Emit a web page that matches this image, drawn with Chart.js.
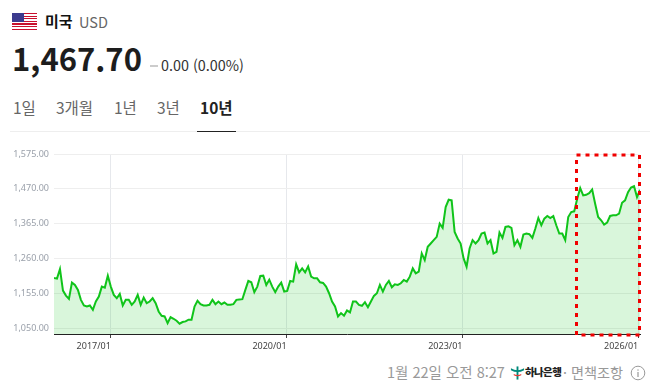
<!DOCTYPE html>
<html lang="ko">
<head>
<meta charset="utf-8">
<script src="https://cdn.jsdelivr.net/npm/chart.js@4"></script>
<style>
  html, body { margin: 0; padding: 0; background: #fff; }
  body { width: 661px; height: 392px; position: relative; overflow: hidden; font-family: "Noto Sans CJK KR", "Noto Sans", sans-serif; }
  .abs { position: absolute; white-space: nowrap; line-height: 1; }
  #flag { left: 12px; top: 13px; width: 25px; height: 17px; background: repeating-linear-gradient(#c8102e 0 1.3px, #fff 1.3px 2.6px); }
  #flag i { position: absolute; left: 0; top: 0; width: 12px; height: 9px; background: #3c3b8e; }
  #chartBox { position: absolute; left: 0; top: 140px; width: 661px; height: 215px; }
  #tabLine { left: 10px; top: 131px; width: 640px; height: 1px; background: #eee; }
  #tabOn { left: 197px; top: 131px; width: 39px; height: 1px; background: #222; }
</style>
</head>
<body>
<div class="abs" id="flag"><i></i></div>
<div class="abs" style="left:45px;top:13px;font-size:15px;font-weight:700;color:#111">미국</div>
<div class="abs" style="left:79px;top:15px;font-size:14.5px;color:#666">USD</div>
<div class="abs" style="left:12px;top:42px;font-size:31px;font-weight:700;color:#1d1d1d">1,467.70</div>
<div class="abs" style="left:150px;top:65px;width:8px;height:2px;background:#ccc"></div>
<div class="abs" style="left:161px;top:58px;font-size:14.4px;color:#333">0.00 (0.00%)</div>
<div class="abs" style="left:13px;top:100px;font-size:15.5px;color:#666">1일</div>
<div class="abs" style="left:56px;top:100px;font-size:15.5px;color:#666">3개월</div>
<div class="abs" style="left:114px;top:100px;font-size:15.5px;color:#666">1년</div>
<div class="abs" style="left:157px;top:100px;font-size:15.5px;color:#666">3년</div>
<div class="abs" style="left:200px;top:100px;font-size:15.5px;font-weight:700;color:#222">10년</div>
<div class="abs" id="tabLine"></div>
<div class="abs" id="tabOn"></div>

<div id="chartBox"><canvas id="fxChart"></canvas></div>

<div class="abs" style="left:387px;top:365px;font-size:14.5px;color:#999">1월 22일 오전 8:27</div>
<svg class="abs" style="left:510px;top:365px" width="15" height="16" viewBox="0 0 16 16">
  <path d="M1 3 Q8 7 15 3 L15 5 Q8 9 1 5 Z" fill="#00897b"/>
  <rect x="7" y="1" width="2" height="14" fill="#00897b"/>
  <path d="M4 9 Q8 11 12 9 L12 10.5 Q8 12.5 4 10.5 Z" fill="#e53935"/>
</svg>
<div class="abs" style="left:525px;top:367px;font-size:10.5px;font-weight:900;color:#222;letter-spacing:-0.6px">하나은행</div>
<div class="abs" style="left:563px;top:365px;font-size:14.2px;color:#999">· 면책조항</div>
<svg class="abs" style="left:630px;top:365px" width="16" height="16" viewBox="0 0 16 16">
  <circle cx="8" cy="8" r="6.8" fill="none" stroke="#999" stroke-width="1"/>
  <rect x="7.4" y="7" width="1.2" height="5" fill="#999"/>
  <rect x="7.4" y="4.4" width="1.2" height="1.3" fill="#999"/>
</svg>

<script>
const startYear = 2016.03;
const endYear = 2026.03;
const yTicks = [1050, 1155, 1260, 1365, 1470, 1575];
const xTicks = [2017, 2020, 2023, 2026];
const values = [
  1201, 1199, 1228, 1163, 1148, 1138, 1187, 1180, 1165, 1135, 1118, 1115, 1118, 1105, 1130, 1145,
  1175, 1172, 1208, 1175, 1150, 1140, 1153, 1118, 1135, 1135, 1120, 1130, 1150, 1120, 1142, 1125,
  1130, 1140, 1125, 1100, 1087, 1085, 1065, 1083, 1078, 1072, 1063, 1068, 1070, 1075, 1075, 1115,
  1132, 1122, 1118, 1118, 1120, 1135, 1122, 1130,
  1122, 1127, 1120, 1120, 1122, 1135, 1136, 1137, 1165, 1192, 1188, 1158, 1175, 1207, 1208, 1180,
  1196, 1175, 1158, 1175, 1187, 1160, 1162, 1192, 1190, 1242, 1218, 1230, 1218, 1236, 1205, 1200,
  1200, 1188, 1186, 1175, 1155, 1130, 1115, 1085, 1095, 1087, 1103, 1097, 1130, 1130, 1120, 1117,
  1128, 1113, 1130, 1147, 1155, 1180, 1160, 1180, 1192, 1173, 1182, 1180, 1185, 1195, 1190, 1205,
  1230, 1215, 1220, 1275, 1255, 1295, 1305, 1315, 1325, 1365,
  1352, 1415, 1437, 1435, 1340, 1320, 1305, 1260, 1235, 1290, 1315, 1305, 1315, 1335, 1338, 1305,
  1315, 1275, 1280, 1338, 1322, 1355, 1357, 1352, 1300, 1315, 1295, 1332, 1335, 1333, 1322, 1350,
  1382, 1360, 1380, 1388, 1382, 1388, 1360, 1335, 1335, 1315, 1385, 1400, 1402, 1440, 1472, 1450,
  1452, 1457, 1468, 1425, 1385, 1375, 1362, 1368, 1388, 1390, 1390, 1395, 1428, 1435, 1460, 1474,
  1478, 1445, 1467
];
const points = values.map((v, i) => ({
  x: startYear + (endYear - startYear) * i / (values.length - 1),
  y: v
}));

// dotted red box over the last stretch of the chart
const redBox = {
  id: 'redBox',
  afterDraw(chart) {
    const { ctx } = chart;
    ctx.save();
    ctx.strokeStyle = '#f00000';
    ctx.lineWidth = 3;
    ctx.setLineDash([4, 5]);
    ctx.strokeRect(576.5, 15, 63, 180);
    ctx.restore();
  }
};

new Chart(document.getElementById('fxChart'), {
  type: 'line',
  data: {
    datasets: [{
      data: points,
      borderColor: '#10c41a',
      borderWidth: 2,
      backgroundColor: 'rgba(20,196,28,0.16)',
      fill: 'start',
      pointRadius: 0,
      tension: 0
    }]
  },
  options: {
    responsive: true,
    maintainAspectRatio: false,
    animation: false,
    layout: { padding: { left: 0, right: 21, top: 14, bottom: 0 } },
    plugins: { legend: { display: false }, tooltip: { enabled: false } },
    scales: {
      x: {
        type: 'linear',
        min: startYear,
        max: endYear,
        afterBuildTicks: axis => { axis.ticks = xTicks.map(v => ({ value: v })); },
        afterFit: axis => { axis.height = 21; },
        grid: { color: '#e6e8ec', tickColor: '#444', tickLength: 4, drawOnChartArea: true },
        border: { color: '#222', width: 1 },
        ticks: {
          autoSkip: false,
          maxRotation: 0,
          align: 'end',
          padding: 3,
          color: '#444',
          font: { family: '"Noto Sans"', size: 9 },
          callback: v => v + '/01'
        }
      },
      y: {
        min: 1032,
        max: 1575,
        afterBuildTicks: axis => { axis.ticks = yTicks.map(v => ({ value: v })); },
        afterFit: axis => { axis.width = 54; },
        grid: { color: '#eeeeee', drawTicks: false },
        border: { display: false },
        ticks: {
          padding: 5,
          color: '#9aa0aa',
          font: { family: '"Noto Sans"', size: 9 },
          callback: v => v.toLocaleString('en-US', { minimumFractionDigits: 2, maximumFractionDigits: 2 })
        }
      }
    }
  },
  plugins: [redBox]
});
</script>
</body>
</html>
